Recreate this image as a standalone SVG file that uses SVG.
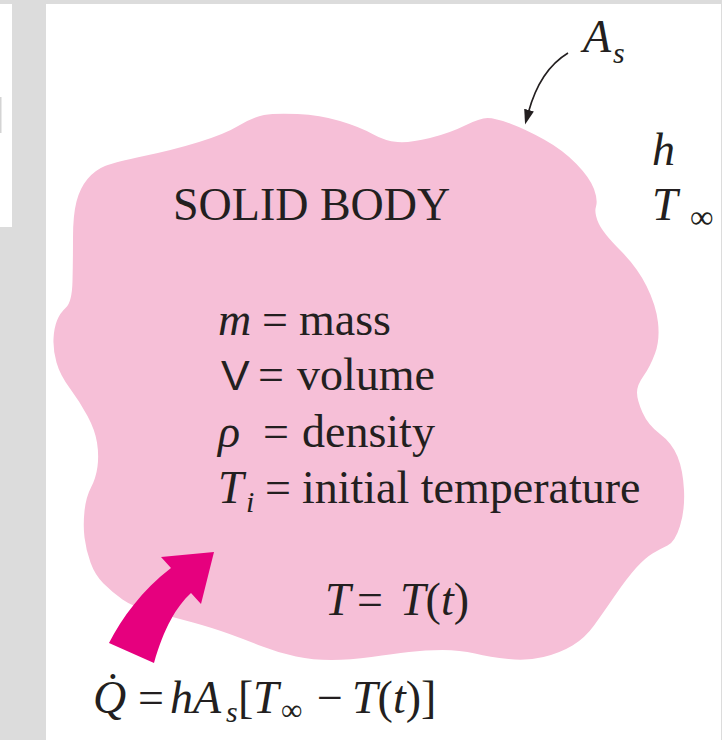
<svg xmlns="http://www.w3.org/2000/svg" width="722" height="740" viewBox="0 0 722 740">
<style>
text{font-family:"Liberation Serif","Times New Roman",serif;font-size:46px;fill:#231f20}
.i{font-style:italic}
.sub{font-size:30px}
.body{fill:#f6bfd7}
.heat{fill:#e6007e}
.lead{fill:none;stroke:#231f20;stroke-width:1.6}
</style>
<defs>
<marker id="ah" markerUnits="userSpaceOnUse" markerWidth="16" markerHeight="12" refX="2" refY="5" orient="auto">
<path d="M0,0 L15,5 L0,10 Z" fill="#231f20"/>
</marker>
</defs>
<g id="background">
<rect x="0" y="0" width="722" height="740" fill="#dcdcdc"/>
<rect x="0" y="4" width="12" height="223" fill="#ffffff"/>
<rect x="0" y="97" width="1.5" height="36" fill="#d4d4d4"/>
<rect x="46" y="4" width="675" height="736" fill="#ffffff"/>
</g>
<g id="solid-body">
<path class="body" d="M239 125.5 Q253 117 264 115 Q275 113 297.5 114 Q320 115 340 121 Q360 127 372.5 134 Q385 141 397.5 142 Q410 143 430 138 Q450 133 465 125.5 Q480 118 487.5 118 Q495 118 510 123.5 Q525 129 544 139.5 Q563 150 576.5 164 Q590 178 594 189 Q598 200 596 206.5 Q594 213 598.5 223 Q603 233 620 250 Q637 267 646.5 286 Q656 305 658 322.5 Q660 340 655 353.5 Q650 367 643.5 376 Q637 385 637 392.5 Q637 400 642.5 412.5 Q648 425 660 434 Q672 443 677.5 456.5 Q683 470 684 490 Q685 510 680 526 Q675 542 667.5 545.5 Q660 549 652.5 553.5 Q645 558 636 568 Q627 578 615 595.5 Q603 613 594 625.5 Q585 638 572.5 645.5 Q560 653 543.5 657 Q527 661 508.5 659 Q490 657 475 653.5 Q460 650 442.5 650 Q425 650 409 652 Q393 654 371.5 657 Q350 660 331.5 660 Q313 660 296 656.5 Q279 653 262.5 646.5 Q246 640 229.5 634 Q213 628 193 622.5 Q173 617 153 612 Q133 607 122.5 599.5 Q112 592 103.5 583.5 Q95 575 90.5 562.5 Q86 550 84.5 537.5 Q83 525 84.5 511 Q86 497 91 487.5 Q96 478 97.5 466.5 Q99 455 97 442.5 Q95 430 87.5 416 Q80 402 70 388.5 Q60 375 56.5 362.5 Q53 350 53.5 339 Q54 328 57 320.5 Q60 313 66 307.5 Q72 302 72.5 281 Q73 260 73 237.5 Q73 215 76.5 201.5 Q80 188 87.5 179 Q95 170 105 166 Q115 162 144 156 Q173 150 199 142 Q225 134 239 125.5 Z"/>
<text x="173" y="220">SOLID BODY</text>
<text y="335"><tspan x="218" class="i">m</tspan> <tspan x="262">=</tspan> <tspan x="299">mass</tspan></text>
<text y="390"><tspan x="221" style="font-family:'Liberation Sans',Arial,sans-serif;font-size:43px">V</tspan> <tspan x="258">=</tspan> <tspan x="297">volume</tspan></text>
<text y="447"><tspan x="218" class="i">ρ</tspan> <tspan x="263">=</tspan> <tspan x="302">density</tspan></text>
<text y="503"><tspan x="218" class="i">T</tspan><tspan x="246" y="512" class="i sub">i</tspan> <tspan x="265" y="503">=</tspan> <tspan x="302">initial temperature</tspan></text>
<text y="615"><tspan x="325" class="i">T</tspan> <tspan x="357">=</tspan> <tspan x="400" class="i">T</tspan>(<tspan class="i">t</tspan>)</text>
</g>
<g id="surface-label">
<text y="52"><tspan x="583" class="i">A</tspan><tspan x="613" y="63" class="i sub">s</tspan></text>
</g>
<g id="ambient-label">
<text x="652" y="165" class="i">h</text>
<text y="220"><tspan x="652" class="i">T</tspan><tspan x="690" y="228" class="sub" style="font-size:33px">∞</tspan></text>
</g>
<g id="heat-equation">
<text y="713"><tspan x="93" class="i">Q̇</tspan> <tspan x="138">=</tspan> <tspan x="170" class="i">h</tspan><tspan x="193" class="i">A</tspan><tspan x="226" y="722" class="i sub">s</tspan><tspan x="238" y="713">[</tspan><tspan x="253" class="i">T</tspan><tspan x="281" y="720" class="sub" style="font-size:30px">∞</tspan> <tspan x="317" y="713">−</tspan> <tspan x="352" class="i">T</tspan>(<tspan class="i">t</tspan>)]</text>
</g>
<g id="connectors">
<path class="lead" d="M568 53 Q540 70 528.5 112" marker-end="url(#ah)"/>
<path class="heat" d="M109 643 C122 618 142 590 171 568 L161 557 L214 552 L201 604 L191 593 C176 607 164 628 154 663 Z"/>
</g>
</svg>
